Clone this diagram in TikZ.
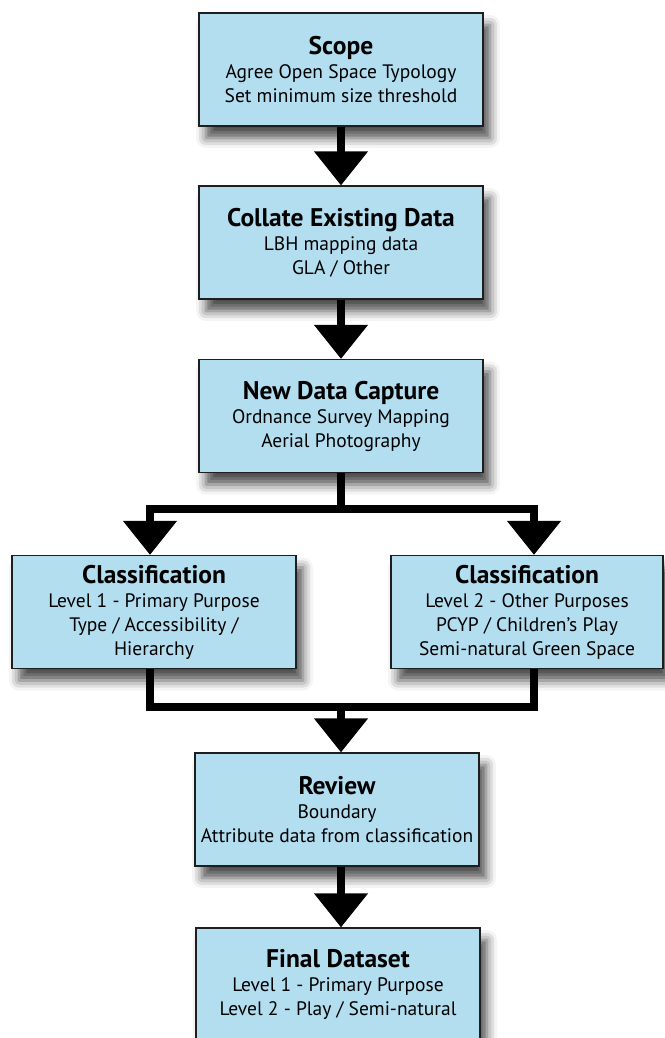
\documentclass[tikz,border=0pt]{standalone}
\usepackage{fontspec}
\setmainfont{PT Sans}
\usetikzlibrary{arrows.meta,shadows.blur}
\definecolor{boxblue}{RGB}{178,222,240}
\definecolor{boxline}{RGB}{30,30,30}
\tikzset{
  stepbox/.style={draw=boxline, line width=1.2pt, fill=boxblue, minimum height=113pt,
    minimum width=284pt, align=center, inner sep=0pt,
    font=\fontsize{19.5}{24}\selectfont,
    blur shadow={shadow xshift=7pt, shadow yshift=-12pt, shadow blur radius=10pt, shadow opacity=70}},
  conn/.style={line width=8pt, line join=miter, black},
  arr/.style={conn, -{Triangle[width=52pt,length=34pt]}},
}
\newcommand{\ttl}[1]{{\fontsize{25.5}{28}\selectfont\bfseries #1}\\[0pt]}
\begin{document}
\begin{tikzpicture}[x=1pt,y=-1pt]
\useasboundingbox (0,0) rectangle (664,1038);
\node[stepbox] (scope) at (341,69.5) {\ttl{Scope}Agree Open Space Typology\\Set minimum size threshold};
\node[stepbox] (collate) at (341,242.5) {\ttl{Collate Existing Data}LBH mapping data\\GLA / Other};
\node[stepbox] (newdata) at (341,416) {\ttl{New Data Capture}Ordnance Survey Mapping\\Aerial Photography};
\node[stepbox] (classL) at (154,612) {\ttl{Classification}Level 1 - Primary Purpose\\Type / Accessibility /\\Hierarchy};
\node[stepbox, minimum width=272pt] (classR) at (527,612) {\ttl{Classification}Level 2 - Other Purposes\\PCYP / Children's Play\\Semi-natural Green Space};
\node[stepbox] (review) at (337,809.5) {\ttl{Review}Boundary\\Attribute data from classification};
\node[stepbox] (final) at (338,984.5) {\ttl{Final Dataset}Level 1 - Primary Purpose\\Level 2 - Play / Semi-natural};

\coordinate (sp) at (341,509);
\coordinate (spL) at (150,509);
\coordinate (spR) at (534,509);
\coordinate (mgL) at (150,707);
\coordinate (mgR) at (534,707);
\coordinate (mg) at (341,707);

\draw[arr] (scope) -- (collate);
\draw[arr] (collate) -- (newdata);
\draw[conn] (newdata.south) -- (sp);
\draw[arr] (spR) -- (spL) -- (spL |- classL.north);
\draw[arr] (spL) -- (spR) -- (spR |- classR.north);
\draw[conn] (classL.south -| mgL) -- (mgL) -- (mgR) -- (classR.south -| mgR);
\draw[arr] (mg) -- (mg |- review.north);
\draw[arr] (review.south -| 341,0) -- (final.north -| 341,0);
\end{tikzpicture}
\end{document}
